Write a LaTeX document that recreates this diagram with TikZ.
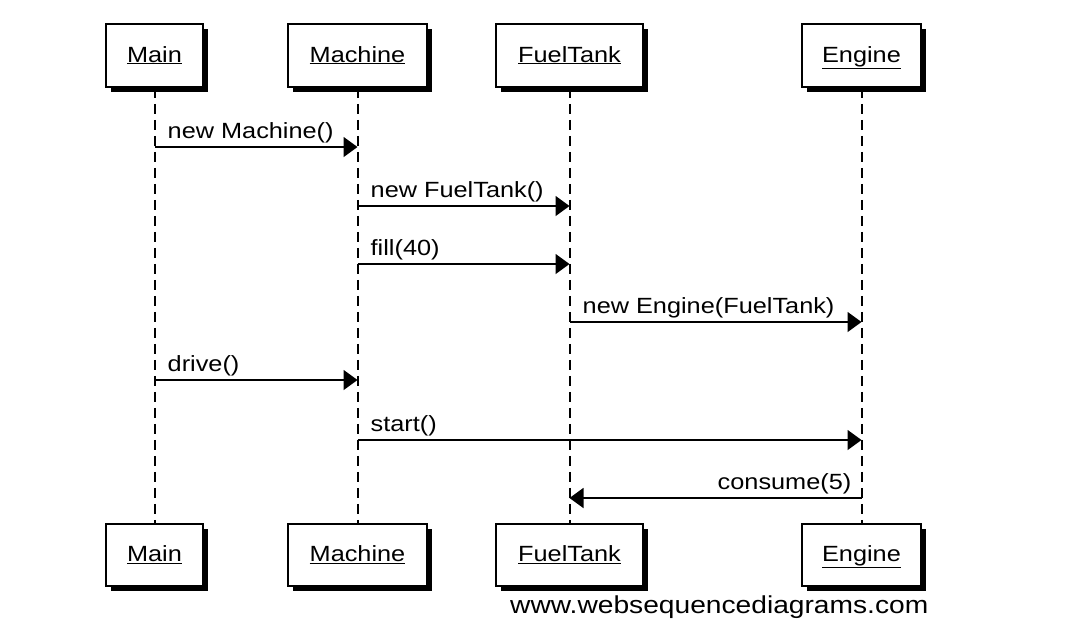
\documentclass[tikz,border=0pt]{standalone}
\usepackage{fontspec}
\setmainfont{Liberation Sans}[FakeStretch=1.15]
\usetikzlibrary{arrows.meta,shadows}
\begin{document}
\begin{tikzpicture}[x=1pt,y=-1pt,
  actor/.style={draw=black, line width=1.5pt, fill=white, inner sep=0pt,
    text height=16pt, text depth=3pt,
    font=\fontsize{22}{26}\selectfont,
    drop shadow={shadow xshift=5pt, shadow yshift=-5pt, fill=black, opacity=1}},
  life/.style={line width=2pt, draw=black, dash pattern=on 10pt off 6pt},
  msg/.style={line width=1.5pt, -{Triangle[length=14pt,width=20pt]}},
  lbl/.style={font=\fontsize{22}{26}\selectfont, inner sep=0pt}]
\useasboundingbox (0,0) rectangle (1076,630);
% top actors
\node[actor, minimum width=97pt, minimum height=63pt] (mainT) at (154.5,55.5) {\underline{Main}};
\node[actor, minimum width=139pt, minimum height=63pt] (machT) at (357.5,55.5) {\underline{Machine}};
\node[actor, minimum width=147pt, minimum height=63pt] (fuelT) at (569.5,55.5) {\underline{FuelTank}};
\node[actor, minimum width=119pt, minimum height=63pt] (engT) at (861.5,55.5) {\underline{Engine}};
% bottom actors
\node[actor, minimum width=97pt, minimum height=62pt] (mainB) at (154.5,555) {\underline{Main}};
\node[actor, minimum width=139pt, minimum height=62pt] (machB) at (357.5,555) {\underline{Machine}};
\node[actor, minimum width=147pt, minimum height=62pt] (fuelB) at (569.5,555) {\underline{FuelTank}};
\node[actor, minimum width=119pt, minimum height=62pt] (engB) at (861.5,555) {\underline{Engine}};
% lifelines
\draw[life] (mainT.south) -- (mainB.north);
\draw[life] (machT.south) -- (machB.north);
\draw[life] (fuelT.south) -- (fuelB.north);
\draw[life] (engT.south) -- (engB.north);
% message rows
\coordinate (r1) at (0,147);
\coordinate (r2) at (0,206);
\coordinate (r3) at (0,264);
\coordinate (r4) at (0,322);
\coordinate (r5) at (0,380);
\coordinate (r6) at (0,440);
\coordinate (r7) at (0,498);
\draw[msg] (mainT |- r1) -- (machT |- r1);
\node[lbl, anchor=base west] (l1) at ([xshift=13pt,yshift=9pt]mainT |- r1) {new Machine()};
\draw[msg] (machT |- r2) -- (fuelT |- r2);
\node[lbl, anchor=base west] (l2) at ([xshift=13pt,yshift=9pt]machT |- r2) {new FuelTank()};
\draw[msg] (machT |- r3) -- (fuelT |- r3);
\node[lbl, anchor=base west] (l3) at ([xshift=13pt,yshift=9pt]machT |- r3) {fill(40)};
\draw[msg] (fuelT |- r4) -- (engT |- r4);
\node[lbl, anchor=base west] (l4) at ([xshift=13pt,yshift=9pt]fuelT |- r4) {new Engine(FuelTank)};
\draw[msg] (mainT |- r5) -- (machT |- r5);
\node[lbl, anchor=base west] (l5) at ([xshift=13pt,yshift=9pt]mainT |- r5) {drive()};
\draw[msg] (machT |- r6) -- (engT |- r6);
\node[lbl, anchor=base west] (l6) at ([xshift=13pt,yshift=9pt]machT |- r6) {start()};
\draw[msg] (engT |- r7) -- (fuelT |- r7);
\node[lbl, anchor=base east] (l7) at ([xshift=-10pt,yshift=9pt]engT |- r7) {consume(5)};
% watermark
\node[inner sep=0pt, anchor=base west, font=\fontsize{24.5}{28}\selectfont] (wm) at (510,613) {www.websequencediagrams.com};
\end{tikzpicture}
\end{document}
